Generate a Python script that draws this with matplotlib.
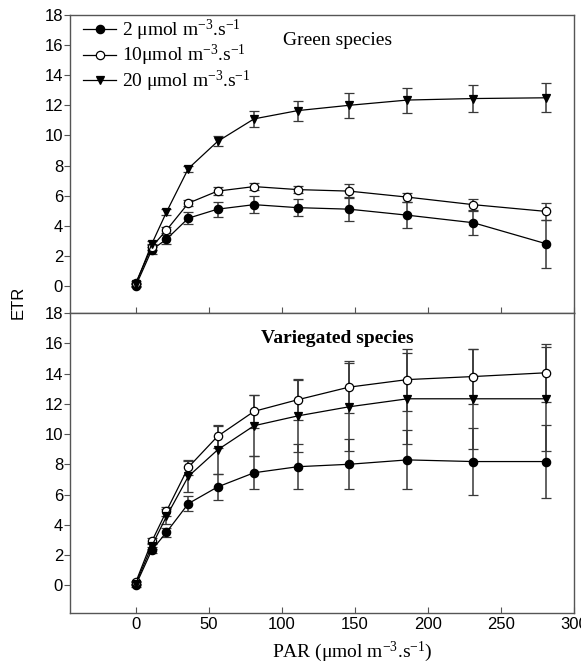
import matplotlib
matplotlib.use("Agg")
import matplotlib.pyplot as plt

par = [0, 11, 21, 36, 56, 81, 111, 146, 186, 231, 281]

# Green species
g2 = [0.0, 2.4, 3.1, 4.5, 5.1, 5.4, 5.2, 5.1, 4.7, 4.2, 2.8]
g2_err = [0.1, 0.3, 0.3, 0.4, 0.5, 0.55, 0.58, 0.8, 0.85, 0.8, 1.6]
g10 = [0.2, 2.6, 3.7, 5.5, 6.3, 6.6, 6.4, 6.3, 5.9, 5.4, 4.95]
g10_err = [0.1, 0.2, 0.2, 0.2, 0.25, 0.25, 0.25, 0.45, 0.3, 0.35, 0.55]
g20 = [0.1, 2.8, 4.9, 7.8, 9.6, 11.1, 11.65, 12.0, 12.35, 12.45, 12.5]
g20_err = [0.1, 0.2, 0.2, 0.2, 0.33, 0.55, 0.66, 0.85, 0.83, 0.9, 0.97]

# Variegated species
v2 = [0.0, 2.33, 3.5, 5.4, 6.5, 7.44, 7.84, 8.0, 8.29, 8.18, 8.18]
v2_err = [0.1, 0.2, 0.3, 0.5, 0.83, 1.1, 1.5, 1.65, 1.95, 2.2, 2.4]
v10 = [0.2, 2.9, 4.9, 7.8, 9.85, 11.5, 12.27, 13.1, 13.6, 13.8, 14.05]
v10_err = [0.1, 0.2, 0.3, 0.5, 0.75, 1.1, 1.35, 1.7, 2.05, 1.8, 1.9]
v20 = [0.1, 2.6, 4.55, 7.2, 8.95, 10.55, 11.2, 11.8, 12.33, 12.33, 12.33]
v20_err = [0.1, 0.2, 0.5, 1.0, 1.6, 2.0, 2.4, 2.9, 3.0, 3.3, 3.45]

labels = ["2 \u03bcmol m$^{-3}$.s$^{-1}$",
          "10\u03bcmol m$^{-3}$.s$^{-1}$",
          "20 \u03bcmol m$^{-3}$.s$^{-1}$"]

plt.rcParams["font.family"] = ["Liberation Sans", "DejaVu Sans"]
plt.rcParams["mathtext.fontset"] = "custom"
plt.rcParams["mathtext.rm"] = "Liberation Serif"
plt.rcParams["mathtext.default"] = "rm"

fig = plt.figure(figsize=(5.81, 6.67), dpi=100)
ax1 = fig.add_axes([0.1205, 0.5307, 0.8675, 0.4468])
ax2 = fig.add_axes([0.1205, 0.0817, 0.8675, 0.4490])

styles = [dict(marker="o", mfc="black"),
          dict(marker="o", mfc="white"),
          dict(marker="v", mfc="black")]


def draw(ax, series):
    handles = []
    for (y, e), st in zip(series, styles):
        h = ax.errorbar(par, y, yerr=e, color="black", lw=0.9,
                        ecolor="#383838", elinewidth=1.1, capsize=3.6, capthick=1.1,
                        marker=st["marker"], mfc=st["mfc"], mec="black",
                        ms=6, mew=0.9)
        handles.append(h)
    ax.set_xlim(-45, 300)
    ax.set_ylim(-1.8, 18)
    ax.set_yticks(range(0, 19, 2))
    ax.set_xticks(range(0, 301, 50))
    for s in ax.spines.values():
        s.set_color("#555555")
        s.set_linewidth(1.0)
    ax.tick_params(axis="y", direction="out", length=4, labelsize=12,
                   color="#555555", pad=1)
    ax.tick_params(axis="x", direction="in", length=4, color="#555555",
                   labelsize=12, pad=3)
    return handles


h = draw(ax1, [(g2, g2_err), (g10, g10_err), (g20, g20_err)])
draw(ax2, [(v2, v2_err), (v10, v10_err), (v20, v20_err)])

ax1.tick_params(axis="x", labelbottom=False)

ax1.legend([x[0] for x in h], labels, loc="upper left", frameon=False,
           prop={"family": "Liberation Serif", "size": 14},
           handlelength=1.7, handletextpad=0.3, labelspacing=0.0,
           bbox_to_anchor=(0.02, 1.0), borderaxespad=0.1, borderpad=0.05)

ax1.text(0.53, 0.915, "Green species", transform=ax1.transAxes,
         ha="center", va="center", family="Liberation Serif", fontsize=14)
ax2.text(0.53, 0.915, "Variegated species", transform=ax2.transAxes,
         ha="center", va="center", family="Liberation Serif", fontsize=14,
         fontweight="bold")

fig.text(0.032, 0.546, "ETR", rotation=90, ha="center", va="center", fontsize=12)
fig.text(0.607, 0.022, "PAR (\u03bcmol m$^{-3}$.s$^{-1}$)", ha="center",
         va="center", family="Liberation Serif", fontsize=14)

fig.savefig("out.png", dpi=100)
